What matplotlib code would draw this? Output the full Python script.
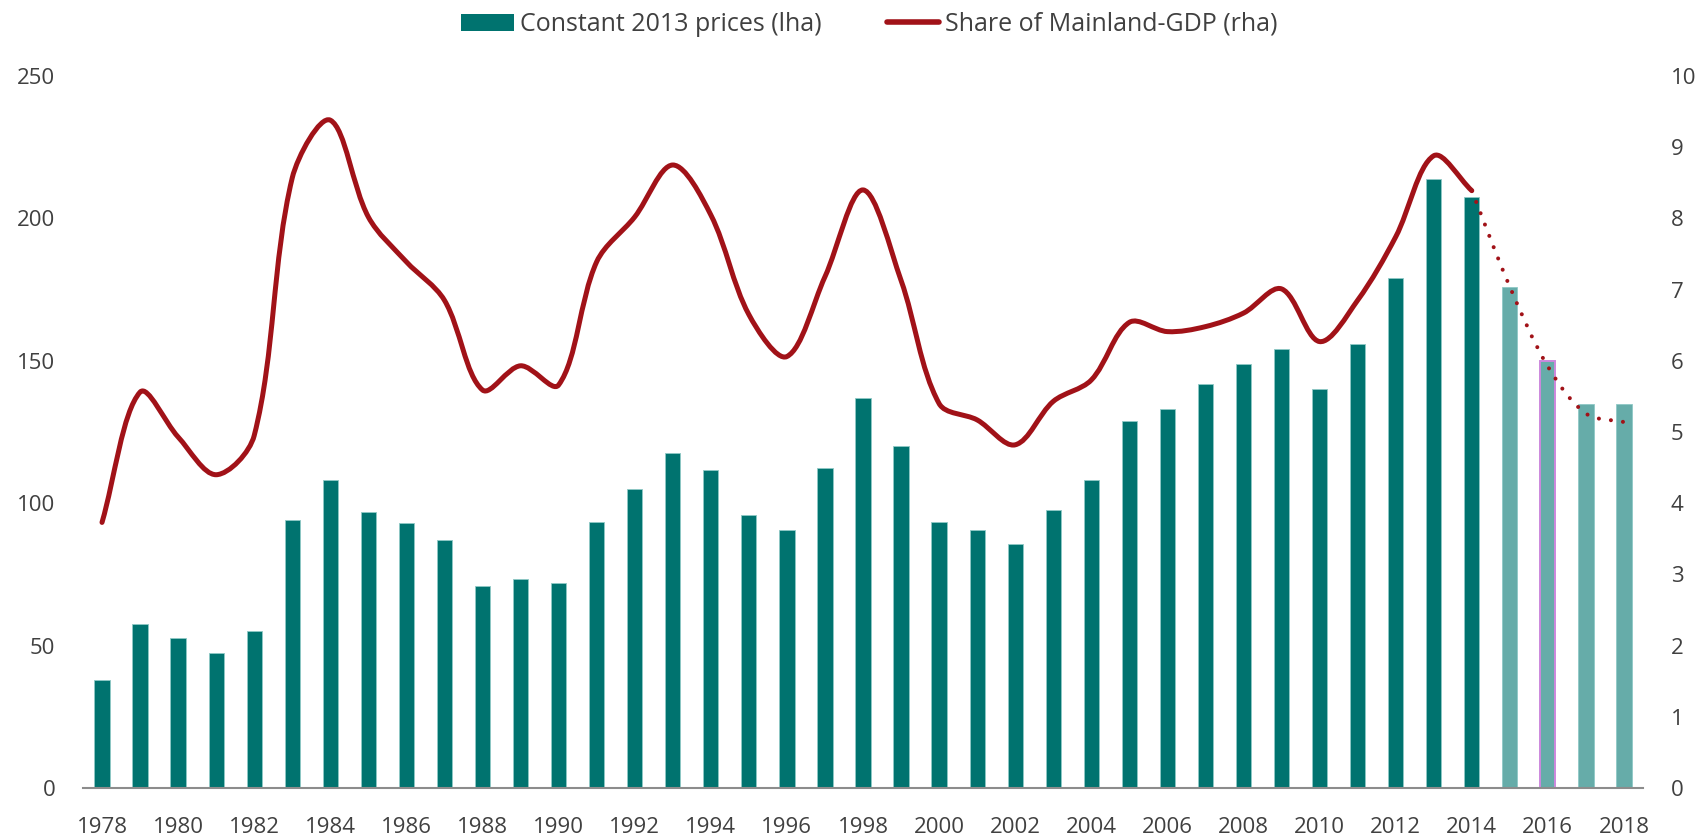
import numpy as np
import matplotlib
matplotlib.use("Agg")
import matplotlib.pyplot as plt
from matplotlib.path import Path
from matplotlib.patches import PathPatch, Patch
from matplotlib.lines import Line2D

plt.rcParams['font.family'] = ['Open Sans', 'DejaVu Sans']

years = np.arange(1978, 2019)

# Investment, constant 2013 prices (left axis); 2015-2018 are projections
invest = [38, 57.5, 52.5, 47.5, 55, 94, 108, 97, 93, 87, 71, 73.5, 72, 93.5,
          105, 117.5, 111.5, 96, 90.5, 112.5, 137, 120, 93.5, 90.5, 85.5, 97.5,
          108, 129, 133, 142, 149, 154, 140, 156, 179, 214, 207.5,
          176, 150, 135, 135]
n_actual = 37  # 1978-2014

# Share of Mainland-GDP, percent (right axis)
share_years = np.arange(1978, 2015)
share = [3.73, 5.56, 4.93, 4.40, 4.95, 8.57, 9.38, 8.02, 7.39, 6.85, 5.59, 5.93,
         5.66, 7.39, 8.02, 8.75, 8.05, 6.65, 6.06, 7.18, 8.40, 7.13, 5.40, 5.17,
         4.82, 5.43, 5.73, 6.54, 6.41, 6.48, 6.67, 7.01, 6.27, 6.85, 7.74, 8.88,
         8.39]
proj_years = np.arange(2014, 2019)
proj_share = [8.39, 7.04, 5.92, 5.26, 5.14]

dark_teal = '#00736f'
light_teal = '#66aca9'
red = '#a11218'
text_col = '#404040'


def smooth_path(ax, x, y):
    """Bezier path through the points; tangents weighted by on-screen chord length."""
    data = np.column_stack([x, y]).astype(float)
    pix = ax.transData.transform(data)
    pts = np.vstack([pix[0], pix, pix[-1]])
    verts = [pix[0]]
    codes = [Path.MOVETO]
    for i in range(1, len(pix)):
        p0, p1, p2, p3 = pts[i - 1], pts[i], pts[i + 1], pts[i + 2]
        d01 = np.hypot(*(p1 - p0))
        d12 = np.hypot(*(p2 - p1))
        d23 = np.hypot(*(p3 - p2))
        f1 = d12 / (3 * (d01 + d12)) if d01 + d12 > 0 else 0
        f2 = d12 / (3 * (d12 + d23)) if d12 + d23 > 0 else 0
        verts += [p1 + f1 * (p2 - p0), p2 - f2 * (p3 - p1), p2]
        codes += [Path.CURVE4] * 3
    verts = ax.transData.inverted().transform(np.array(verts))
    return Path(verts, codes)


fig = plt.figure(figsize=(17.04, 8.39), dpi=100)
ax = fig.add_axes([0.0487, 0.0608, 0.9155, 0.8486])

colors = [dark_teal] * n_actual + [light_teal] * (len(years) - n_actual)
edges = ['#8fc9c6'] * len(years)
edges[years.tolist().index(2016)] = '#cc88dd'
lws = [0.6] * len(years)
lws[years.tolist().index(2016)] = 1.4
ax.bar(years, invest, width=0.4, color=colors, edgecolor=edges, linewidth=lws, zorder=2)

ax.set_xlim(1977.5, 2018.5)
ax.set_ylim(0, 250)
ax.set_yticks(np.arange(0, 251, 50))
ax.set_xticks(years[::2])
for s in ['top', 'left', 'right']:
    ax.spines[s].set_visible(False)
ax.spines['bottom'].set_color('#8c8c8c')
ax.spines['bottom'].set_linewidth(1.5)
ax.tick_params(axis='both', length=0, labelsize=16, colors=text_col)
ax.tick_params(axis='y', pad=20)
ax.tick_params(axis='x', pad=21)

ax2 = ax.twinx()
ax2.set_xlim(1977.5, 2018.5)
ax2.set_ylim(0, 10)
ax2.set_yticks(np.arange(0, 11, 1))
for s in ['top', 'left', 'right', 'bottom']:
    ax2.spines[s].set_visible(False)
ax2.tick_params(axis='y', length=0, labelsize=16, colors=text_col, pad=20)

ax2.add_patch(PathPatch(smooth_path(ax2, share_years, share), fill=False,
                        edgecolor=red, linewidth=3.6, capstyle='round',
                        joinstyle='round', zorder=3))
ax2.add_patch(PathPatch(smooth_path(ax2, proj_years, proj_share), fill=False,
                        edgecolor=red, linewidth=2.9, linestyle=(0, (0.01, 3.0)),
                        capstyle='round', zorder=3))

handles = [Patch(facecolor=dark_teal, edgecolor='none'),
           Line2D([0], [0], color=red, linewidth=4, solid_capstyle='round')]
fig.legend(handles, ['Constant 2013 prices (lha)', 'Share of Mainland-GDP (rha)'],
           loc='center', bbox_to_anchor=(0.5103, 0.971), ncol=2, frameon=False,
           fontsize=18, handlelength=2.1, handleheight=0.67, handletextpad=0.25,
           columnspacing=2.6, labelcolor=text_col)

fig.savefig('out.png', dpi=100, facecolor='white')
